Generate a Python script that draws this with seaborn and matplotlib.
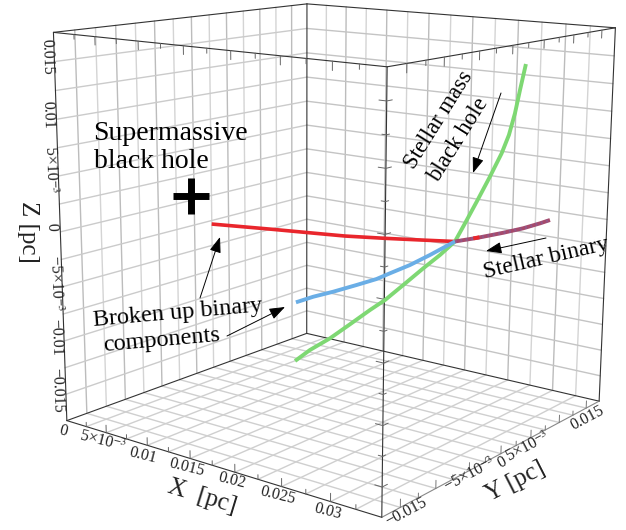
import numpy as np
import matplotlib
matplotlib.use("Agg")
import matplotlib.pyplot as plt
import seaborn as sns

# curve values in pc (depth along the view is a best guess)
green_x = [0.01467, 0.01564, 0.01694, 0.01823, 0.01953, 0.0205, 0.02168, 0.02297, 0.02404, 0.025, 0.02563, 0.02636, 0.02718, 0.0279, 0.02834, 0.02869, 0.02897, 0.0293]
green_y = [-0.00283, -0.00186, -0.00056, 0.00073, 0.00203, 0.003, 0.00418, 0.00547, 0.00654, 0.0075, 0.00813, 0.00886, 0.00968, 0.0104, 0.01084, 0.01119, 0.01147, 0.0118]
green_z = [-0.01257, -0.01157, -0.01052, -0.00925, -0.00795, -0.00705, -0.00568, -0.00416, -0.00296, -0.00173, -0.00006, 0.00192, 0.0042, 0.00632, 0.00798, 0.00994, 0.01203, 0.01435]
blue_x = [0.01473, 0.01585, 0.01714, 0.01865, 0.01994, 0.0208, 0.0221, 0.02339, 0.025]
blue_y = [-0.00277, -0.00165, -0.00036, 0.00115, 0.00244, 0.0033, 0.0046, 0.00589, 0.0075]
blue_z = [-0.00703, -0.00655, -0.00613, -0.00556, -0.00505, -0.00455, -0.00382, -0.00293, -0.00173]
red_x = [0.00941, 0.0113, 0.01319, 0.01552, 0.01787, 0.02045, 0.02283, 0.025]
red_y = [-0.00809, -0.0062, -0.00431, -0.00198, 0.00037, 0.00295, 0.00533, 0.0075]
red_z = [0.0004, 0.0001, -0.0002, -0.00059, -0.00098, -0.00128, -0.00152, -0.00173]
binary_x = [0.025, 0.0265, 0.02816, 0.02945, 0.03056, 0.03121]
binary_y = [0.0075, 0.009, 0.01066, 0.01195, 0.01306, 0.01371]
binary_z = [-0.00173, -0.00143, -0.00102, -0.00065, -0.00022, 0.00007]
# small red patch showing through the binary track
patch_x = [0.0262, 0.0266]
patch_y = [0.0087, 0.0091]
patch_z = [-0.00148, -0.00139]

x_lim = (0, 0.035)
y_lim = (-0.0175, 0.0175)
z_lim = (-0.0175, 0.0175)
step = 0.0025

x_labels = ["0", "5×10$^{-3}$", "0.01", "0.015", "0.02", "0.025", "0.03"]
x_label_pos = [(63, 431), (103, 442), (143, 455), (187, 467), (232, 480), (278, 495), (328, 511)]
y_labels = ["−0.015", "−5×10$^{-3}$", "0", "5×10$^{-3}$", "0.015"]
y_label_pos = [(406, 512), (470, 475), (502, 463), (528, 447), (587, 418)]
z_labels = ["0.015", "0.01", "5×10$^{-3}$", "0", "−5×10$^{-3}$", "−0.01", "−0.015"]
z_label_pos = [(47, 57), (48, 115), (50, 170), (52, 227), (55, 283), (56, 337), (57, 390)]

sns.set_theme(style="white")
plt.rcParams["font.family"] = ["Liberation Serif", "DejaVu Serif"]
plt.rcParams["mathtext.fontset"] = "stix"
colors = sns.color_palette(["#7ed873", "#6aaee6", "#e9262c", "#a64a6c"])

fig = plt.figure(figsize=(6.26, 5.30), dpi=100)
fig.patch.set_facecolor("white")

# camera fitted to the box corners
ax = fig.add_axes([0, 0, 1, 1], projection="3d", computed_zorder=False)
ax.set_xlim(*x_lim)
ax.set_ylim(*y_lim)
ax.set_zlim(*z_lim)
ax.view_init(13.045, -52.516, -0.306)
ax.set_proj_type("persp", focal_length=0.458)
ax.set_box_aspect((1, 0.9851, 0.9954))
ax.set_axis_off()
ax.patch.set_alpha(0)

scale, off_x, off_y = 3542.009, 339.258, 225.534
vl = ax.viewLim
ax.set_position([(off_x + scale * vl.x0) / 626, (530 - off_y + scale * vl.y0) / 530,
                 scale * vl.width / 626, scale * vl.height / 530])

x0, x1 = x_lim
y0, y1 = y_lim
z0, z1 = z_lim
xs = np.arange(0, 0.0351, step)
ys = np.arange(-0.0175, 0.0176, step)
zs = np.arange(-0.0175, 0.0176, step)


def is_major(v):
    return abs(v / 0.005 - round(v / 0.005)) < 0.01


def grid_col(v):
    return "#bcbcbc" if is_major(v) else "#d4d4d4"


# grid on the two back walls and the floor
for v in ys[1:-1]:
    ax.plot([x0, x0], [v, v], [z0, z1], color=grid_col(v), lw=1.0, zorder=1)
    ax.plot([x0, x1], [v, v], [z0, z0], color="#cfcfcf", lw=1.0, zorder=1)
for v in xs[1:-1]:
    ax.plot([v, v], [y1, y1], [z0, z1], color=grid_col(v), lw=1.0, zorder=1)
    ax.plot([v, v], [y0, y1], [z0, z0], color="#cfcfcf", lw=1.0, zorder=1)
for v in zs[1:-1]:
    ax.plot([x0, x0], [y0, y1], [v, v], color="#cbcbcb", lw=1.0, zorder=1)
    ax.plot([x0, x1], [y1, y1], [v, v], color="#c4c4c4", lw=1.0, zorder=1)

# box edges
edges = [
    ((x0, y0, z1), (x0, y1, z1)), ((x0, y1, z1), (x1, y1, z1)), ((x0, y0, z1), (x1, y0, z1)), ((x1, y0, z1), (x1, y1, z1)),
    ((x0, y0, z0), (x0, y1, z0)), ((x0, y1, z0), (x1, y1, z0)), ((x0, y0, z0), (x1, y0, z0)), ((x1, y0, z0), (x1, y1, z0)),
    ((x0, y0, z0), (x0, y0, z1)), ((x0, y1, z0), (x0, y1, z1)), ((x1, y0, z0), (x1, y0, z1)), ((x1, y1, z0), (x1, y1, z1)),
]
for a, b in edges:
    col = "#888888" if a[0] == x1 and b[0] == x1 and a[2] == z0 and b[2] == z0 else "#333333"
    ax.plot(*zip(a, b), color=col, lw=0.8, zorder=2)

# ticks on the front edges
for v in xs[1:-1]:
    t = 0.0007 if is_major(v) else 0.0004
    ax.plot([v, v], [y0, y0], [z1, z1 - t], color="#666666", lw=0.7, zorder=2)
    ax.plot([v, v], [y0, y0], [z0, z0 + t], color="#666666", lw=0.7, zorder=2)
for v in ys[1:-1]:
    t = 0.0007 if is_major(v) else 0.0004
    ax.plot([x1, x1], [v, v], [z1, z1 - t], color="#666666", lw=0.7, zorder=2)
    ax.plot([x1, x1], [v, v], [z0, z0 + t], color="#777777", lw=0.7, zorder=2)
for v in zs[1:-1]:
    t = 0.0007 if is_major(v) else 0.0004
    ax.plot([x1 - t, x1, x1], [y0, y0, y0 + t], [v, v, v], color="#666666", lw=0.7, zorder=2)

# curves
ax.plot(red_x, red_y, red_z, color=colors[2], lw=2.6, zorder=4, solid_capstyle="butt")
ax.plot(green_x, green_y, green_z, color=colors[0], lw=2.8, zorder=5, solid_capstyle="butt")
ax.plot(blue_x, blue_y, blue_z, color=colors[1], lw=2.8, zorder=6, solid_capstyle="butt")
ax.plot(binary_x, binary_y, binary_z, color=colors[3], lw=2.8, zorder=5, solid_capstyle="butt")
ax.plot(binary_x, binary_y, binary_z, color="#86609c", lw=2.2, ls=(0, (0.6, 1.2)), alpha=0.6, zorder=6)
ax.plot(patch_x, patch_y, patch_z, color=colors[2], lw=2.8, zorder=7, solid_capstyle="butt")

# labels and arrows live in pixel space
ovl = fig.add_axes([0, 0, 1, 1])
ovl.set_xlim(0, 626)
ovl.set_ylim(530, 0)
ovl.set_axis_off()
ovl.patch.set_alpha(0)

sns.scatterplot(x=[191], y=[196], marker="+", s=700, linewidth=5, color="black", ax=ovl, legend=False)

for lab, (px, py) in zip(x_labels, x_label_pos):
    ovl.text(px, py, lab, fontsize=11.5, rotation=-14, ha="center", va="center", color="#222222")
for lab, (px, py) in zip(y_labels, y_label_pos):
    ovl.text(px, py, lab, fontsize=11.5, rotation=28, ha="center", va="center", color="#222222")
for lab, (px, py) in zip(z_labels, z_label_pos):
    ovl.text(px, py, lab, fontsize=11.5, rotation=272, ha="center", va="center", color="#222222")

ovl.text(202, 497, "X  [pc]", fontsize=18, rotation=-17, ha="center", va="center", color="#222222")
ovl.text(515, 482, "Y [pc]", fontsize=18, rotation=27, ha="center", va="center", color="#222222")
ovl.text(28, 232, "Z [pc]", fontsize=18, rotation=270, ha="center", va="center", color="#222222")

notes = [
    ("Supermassive", 93, 134, 0, 20, "left"),
    ("black hole", 94, 162, 0, 20, "left"),
    ("Stellar mass", 439, 120, 58, 16.5, "center"),
    ("black hole", 458, 140, 58, 16.5, "center"),
    ("Stellar binary", 546, 258, 13, 17, "center"),
    ("Broken up binary", 178, 313, 5, 17.5, "center"),
    ("components", 162, 340, 5, 17.5, "center"),
]
for txt, px, py, rot, size, ha in notes:
    ovl.text(px, py, txt, fontsize=size, rotation=rot, ha=ha, va="center", rotation_mode="anchor", color="black")

arrows = [((200, 298), (220, 237)), ((227, 336), (285, 307)), ((501, 93), (473, 173)), ((546, 238), (486, 251))]
for start, tip in arrows:
    ovl.annotate("", xy=tip, xytext=start,
                 arrowprops=dict(arrowstyle="-|>,head_length=0.6,head_width=0.22", mutation_scale=16,
                                 color="black", lw=0.7, shrinkA=0, shrinkB=0))

fig.savefig("out.png", dpi=100)
